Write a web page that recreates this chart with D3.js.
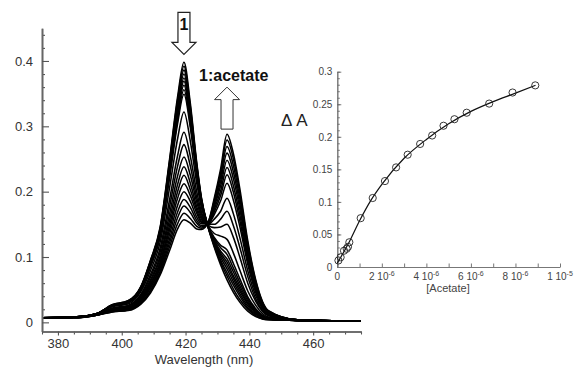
<!DOCTYPE html>
<html>
<head>
<meta charset="utf-8">
<script src="https://cdn.jsdelivr.net/npm/d3@7"></script>
<style>
  body { margin: 0; background: #fff; }
  svg { display: block; font-family: "Liberation Sans", Arial, Helvetica, sans-serif; }
</style>
</head>
<body>
<div id="chart"></div>
<script>
// wavelengths (nm) sampled along every spectrum
var wavelengths = [375,385,392,397,402,406,409,412,415,417.5,419.5,421.5,423.5,425,427,429,431,433,435,437,439.5,442,446,455,475];

// absorbance x 1000, one row per spectrum, free 1 first, 1:acetate last
var spectraMilli = [
  [7,8,13,27,33,55,95,145,250,345,398,335,245,190,147,115,88,65,46,31,17,9,4,3,2],
  [7,8,13,27,33,54,94,143,247,340,392,330,242,189,147,117,92,71,51,35,20,10,4,3,2],
  [7,8,13,26,32,54,93,141,243,335,386,326,240,188,147,119,95,76,57,40,22,12,5,3,2],
  [7,8,13,26,32,53,91,140,240,330,380,321,237,186,147,121,99,82,62,44,25,13,5,3,2],
  [7,8,13,26,32,52,90,138,236,325,374,317,235,185,148,123,103,87,67,48,28,15,5,3,2],
  [7,8,13,26,31,52,89,136,233,321,369,313,233,184,148,124,106,92,71,52,30,16,6,3,2],
  [7,8,13,25,31,51,88,134,230,316,363,309,230,183,148,126,109,97,77,56,33,17,6,3,2],
  [7,8,13,25,30,50,86,132,226,310,356,303,227,182,148,128,114,104,83,61,36,19,6,3,2],
  [7,8,13,25,30,50,85,130,221,304,349,298,224,180,148,130,118,111,90,67,39,21,7,3,2],
  [7,8,12,24,28,47,79,122,206,281,322,277,213,175,149,136,132,127,106,80,48,26,8,3,2],
  [7,8,12,22,26,43,73,113,188,255,291,254,200,169,149,145,146,150,130,100,60,32,10,3,2],
  [7,8,12,21,25,41,69,107,177,239,272,239,191,165,150,150,158,170,148,115,70,36,11,3,2],
  [7,8,12,20,24,39,65,101,166,224,253,225,184,161,150,158,170,190,166,130,79,41,12,4,2],
  [7,8,12,20,23,37,62,97,157,211,238,213,177,158,150,165,186,213,187,147,89,46,13,4,2],
  [7,8,12,19,22,36,59,92,149,200,225,203,172,155,151,169,194,226,199,156,95,49,14,4,2],
  [7,8,11,19,21,34,57,89,142,190,212,194,167,153,151,173,201,237,209,165,100,52,15,4,2],
  [7,7,11,18,21,33,54,85,135,179,200,185,161,151,151,177,209,248,220,174,106,55,16,4,2],
  [7,7,11,17,20,32,52,82,128,169,188,176,156,148,151,180,216,259,230,182,111,58,16,4,2],
  [7,7,11,17,19,30,49,78,122,160,178,168,152,146,152,184,223,269,240,190,116,60,17,4,2],
  [7,7,11,16,19,29,47,75,116,151,167,159,147,144,152,187,229,279,250,198,121,63,17,4,2],
  [7,7,11,16,18,28,45,72,110,143,157,152,143,142,152,190,235,288,258,205,125,65,18,4,2]
];

var xTicks = [380,400,420,440,460];
var yTicks = [0,0.1,0.2,0.3,0.4];

// inset: titration curve
var acetate = [0.05e-6,0.15e-6,0.3e-6,0.42e-6,0.48e-6,0.54e-6,1.05e-6,1.59e-6,2.14e-6,2.64e-6,3.16e-6,3.72e-6,4.26e-6,4.77e-6,5.26e-6,5.81e-6,6.82e-6,7.87e-6,8.89e-6];
var deltaA  = [0.010,0.015,0.025,0.028,0.031,0.038,0.075,0.106,0.132,0.153,0.1725,0.189,0.202,0.217,0.227,0.237,0.251,0.268,0.279];
var fitAcetate = [0,0.5e-6,1e-6,1.5e-6,2e-6,3e-6,4e-6,5e-6,6e-6,7e-6,8e-6,8.9e-6];
var fitDeltaA  = [0.006,0.036,0.071,0.102,0.127,0.167,0.196,0.220,0.239,0.254,0.267,0.279];
var insetXTicks = [0,2e-6,4e-6,6e-6,8e-6,1e-5];
var insetXLabels = [["0",""],["2 10","-6"],["4 10","-6"],["6 10","-6"],["8 10","-6"],["1 10","-5"]];
var insetYTicks = [0,0.05,0.1,0.15,0.2,0.25,0.3];

var width = 574, height = 371;
var svg = d3.select("#chart").append("svg")
  .attr("width", width)
  .attr("height", height);

var x = d3.scaleLinear().domain([375, 475]).range([42, 361]);
var y = d3.scaleLinear().domain([-0.014, 0.45]).range([331.5, 28.3]);

// spectra
var line = d3.line()
  .x(function(d, i) { return x(wavelengths[i]); })
  .y(function(d) { return y(d / 1000); })
  .curve(d3.curveMonotoneX);

svg.append("g").selectAll("path")
  .data(spectraMilli)
  .enter().append("path")
  .attr("d", line)
  .attr("fill", "none")
  .attr("stroke", "#000")
  .attr("stroke-width", 1.55);

// main axes
var yMinor = d3.range(0, 0.45, 0.02).filter(function(v) { return Math.abs(v * 10 - Math.round(v * 10)) > 1e-6; });
svg.append("g")
  .attr("transform", "translate(42,0)")
  .call(d3.axisLeft(y).tickValues(yMinor).tickSize(-3).tickSizeOuter(0).tickFormat(""));
var gy = svg.append("g")
  .attr("transform", "translate(42,0)")
  .call(d3.axisLeft(y).tickValues(yTicks).tickSize(-7).tickSizeOuter(0).tickPadding(9)
    .tickFormat(function(d) { return d === 0 ? "0" : d.toFixed(1); }));

var xMinor = d3.range(375, 476, 5).filter(function(v) { return v % 20 !== 0; });
svg.append("g")
  .attr("transform", "translate(0,331.5)")
  .call(d3.axisBottom(x).tickValues(xMinor).tickSize(3).tickSizeOuter(0).tickFormat(""));
var gx = svg.append("g")
  .attr("transform", "translate(0,331.5)")
  .call(d3.axisBottom(x).tickValues(xTicks).tickSize(4).tickSizeOuter(0).tickPadding(3));

svg.selectAll(".domain").attr("stroke", "#666").attr("stroke-width", 1.6);
svg.selectAll(".tick line").attr("stroke", "#555").attr("stroke-width", 1.1);
gy.selectAll("text").attr("font-size", 13).attr("fill", "#333");
gx.selectAll("text").attr("font-size", 13).attr("fill", "#333");

svg.append("text")
  .attr("x", 204).attr("y", 364)
  .attr("text-anchor", "middle")
  .attr("font-size", 13).attr("fill", "#333")
  .text("Wavelength (nm)");

// arrow for 1 (pointing down on the 420 nm band)
var tx = x(419.5), ty = y(0.41);
svg.append("path")
  .attr("d", d3.line()([[tx-6,ty-42],[tx+6,ty-42],[tx+6,ty-12],[tx+12,ty-12],[tx,ty],[tx-12,ty-12],[tx-6,ty-12]]) + "Z")
  .attr("fill", "#fff").attr("stroke", "#222").attr("stroke-width", 1.2);
svg.append("text")
  .attr("x", tx).attr("y", ty - 24)
  .attr("text-anchor", "middle")
  .attr("font-size", 16).attr("font-weight", "bold").attr("fill", "#111")
  .text("1");

// arrow for 1:acetate (pointing up at 433 nm)
var ux = x(433), uy = y(0.36);
svg.append("path")
  .attr("d", d3.line()([[ux,uy],[ux+12.5,uy+12.5],[ux+6,uy+12.5],[ux+6,uy+42],[ux-6,uy+42],[ux-6,uy+12.5],[ux-12.5,uy+12.5]]) + "Z")
  .attr("fill", "#fff").attr("stroke", "#333").attr("stroke-width", 1);
svg.append("text")
  .attr("x", 199).attr("y", 81)
  .attr("font-size", 16).attr("font-weight", "bold").attr("fill", "#111")
  .text("1:acetate");

// inset
var ix = d3.scaleLinear().domain([0, 1e-5]).range([337.3, 560]);
var iy = d3.scaleLinear().domain([0, 0.3]).range([267, 71.7]);

var insetG = svg.append("g").attr("class", "inset-axes");
insetG.append("g")
  .attr("transform", "translate(337.3,0)")
  .call(d3.axisLeft(iy).tickValues(d3.range(0, 0.301, 0.01)).tickSize(-2.5).tickSizeOuter(0).tickFormat(""));
var giy = insetG.append("g")
  .attr("transform", "translate(337.3,0)")
  .call(d3.axisLeft(iy).tickValues(insetYTicks).tickSize(-4).tickSizeOuter(0).tickPadding(5)
    .tickFormat(function(d) { return d === 0 ? "0" : String(+d.toFixed(2)); }));
insetG.append("g")
  .attr("transform", "translate(0,267)")
  .call(d3.axisBottom(ix).tickValues(d3.range(0, 10.5e-6, 1e-6)).tickSize(-3.5).tickSizeOuter(0).tickFormat(""));

insetG.selectAll(".domain").attr("stroke", "#777").attr("stroke-width", 1);
insetG.selectAll(".tick line").attr("stroke", "#666").attr("stroke-width", 0.9);
giy.selectAll("text").attr("font-size", 10).attr("fill", "#444");

var xl = svg.append("g").selectAll("text")
  .data(insetXTicks)
  .enter().append("text")
  .attr("x", function(d) { return ix(d); })
  .attr("y", 280)
  .attr("text-anchor", "middle")
  .attr("font-size", 10).attr("fill", "#444");
xl.append("tspan").text(function(d, i) { return insetXLabels[i][0]; });
xl.append("tspan").attr("dy", -4).attr("font-size", 7).text(function(d, i) { return insetXLabels[i][1]; });

svg.append("text")
  .attr("x", 448).attr("y", 292)
  .attr("text-anchor", "middle")
  .attr("font-size", 11).attr("fill", "#444")
  .text("[Acetate]");

svg.append("text")
  .attr("x", 281).attr("y", 126)
  .attr("font-size", 17).attr("fill", "#222")
  .text("\u0394 A");

var fitLine = d3.line()
  .x(function(d, i) { return ix(fitAcetate[i]); })
  .y(function(d) { return iy(d); })
  .curve(d3.curveMonotoneX);
svg.append("path")
  .attr("d", fitLine(fitDeltaA))
  .attr("fill", "none").attr("stroke", "#111").attr("stroke-width", 1.2);

svg.append("g").selectAll("circle")
  .data(deltaA)
  .enter().append("circle")
  .attr("cx", function(d, i) { return ix(acetate[i]); })
  .attr("cy", function(d) { return iy(d); })
  .attr("r", 3.6)
  .attr("fill", "none").attr("stroke", "#222").attr("stroke-width", 0.9);
</script>
</body>
</html>
